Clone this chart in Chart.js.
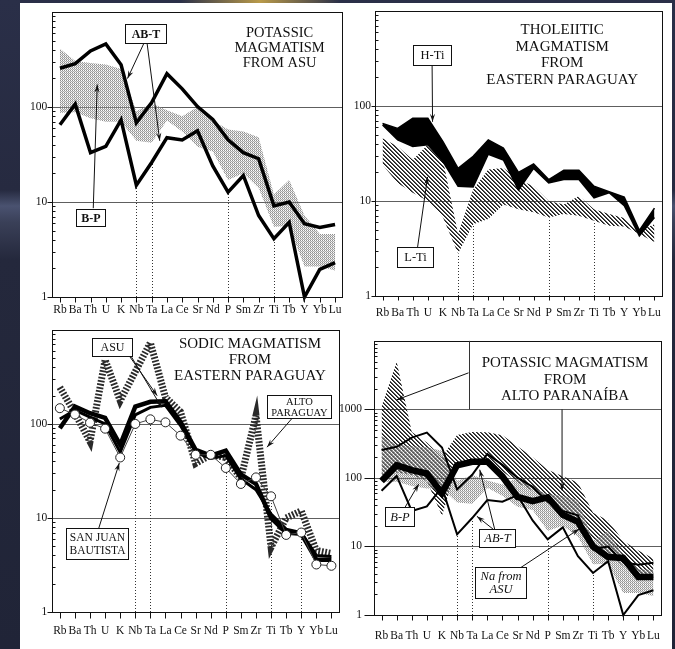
<!DOCTYPE html>
<html>
<head>
<meta charset="utf-8">
<script src="https://cdn.jsdelivr.net/npm/chart.js@4.4.1/dist/chart.umd.min.js"></script>
<style>
  html, body { margin: 0; padding: 0; }
  body {
    width: 675px; height: 649px; position: relative; overflow: hidden;
    background: linear-gradient(to bottom, #2a2f48 0px, #262a40 190px, #4a5270 206px, #3a4058 222px, #24283c 260px, #202437 649px);
  }
  #glow { position: absolute; left: 180px; top: 0; width: 160px; height: 3px;
          background: linear-gradient(to right, rgba(0,0,0,0), #b99a4a, rgba(0,0,0,0)); }
  #paper { position: absolute; left: 20px; top: 3px; width: 652px; height: 646px; background: #fff; }
  canvas { position: absolute; }
</style>
</head>
<body>
<div id="glow"></div>
<div id="paper"></div>
<canvas id="potassicAsu" width="338" height="322" style="left:12px;top:0px"></canvas>
<canvas id="tholeiitic" width="335" height="322" style="left:340px;top:0px"></canvas>
<canvas id="sodic" width="338" height="331" style="left:12px;top:318px"></canvas>
<canvas id="altoParanaiba" width="337" height="327" style="left:338px;top:322px"></canvas>
<script>
// Spider diagrams: element order along the x axis
const elements = ['Rb','Ba','Th','U','K','Nb','Ta','La','Ce','Sr','Nd','P','Sm','Zr','Ti','Tb','Y','Yb','Lu'];
const guideElements = ['Nb','Ta','P','Ti','Y'];
const decadeLabels = [1, 10, 100];
const decadeLabelsWide = [1, 10, 100, 1000];

// Potassic magmatism, ASU: AB-T envelope lines and B-P field
const abtUpper = [255, 285, 388, 460, 278, 68, 111, 224, 155, 101, 74, 45, 33, 28.5, 9.1, 10, 5.9, 5.4, 5.8];
const abtLower = [65, 107, 33, 38.5, 73, 15, 26, 47.5, 45, 56, 24, 12.7, 19, 7.2, 4.1, 6.1, 1.0, 1.95, 2.3];
const bpUpper  = [410, 305, 290, 280, 250, 90, 110, 92, 80, 100, 72, 58, 55, 48, 12, 17, 7.2, 4.6, 4.6];
const bpLower  = [87, 88, 76, 70, 70, 44, 42, 72, 55, 38, 34, 17, 20, 14, 5.5, 5.6, 2.1, 2.1, 1.9];

// Tholeiitic magmatism, Eastern Paraguay: H-Ti and L-Ti fields
const htiUpper = [65.5, 58, 74, 74, 42, 22, 29.5, 44, 36, 20, 24.5, 16.8, 21, 21, 14.3, 12.5, 11, 4.9, 8.4];
const htiLower = [63, 44, 37.5, 39, 26, 14.3, 14, 31, 27, 13, 22, 15.5, 16.8, 16.8, 10.8, 12.2, 8.9, 4.3, 6.7];
const ltiUpper = [45.7, 37.4, 27.2, 39, 27, 4.5, 13.2, 21.4, 22.2, 16.8, 14.3, 10, 9.2, 11.3, 8.2, 7.3, 6.6, 4.9, 5.7];
const ltiLower = [24, 15.5, 12.2, 10, 6.7, 2.8, 5.7, 6.45, 9.2, 8.2, 7.6, 6.7, 7.3, 7.0, 6.2, 5.5, 5.4, 4.5, 3.7];

// Sodic magmatism, Eastern Paraguay
const naAsu        = [90, 153, 130, 116, 60, 153, 172, 174, 105, 53, 46, 52, 29, 23, 10, 7, 6.8, 3.6, 3.6];
const naAsuSecond  = [113, 140, 118, 100, 50, 125, 150, 158, 96, 50, 43, 46, 26, 20, 11, 7.6, 7.0, 4.0, 3.9];
const sanJuan      = [147, 126, 103, 89, 44, 100, 112, 104, 75, 47, 47, 34, 23, 27, 17, 6.6, 7.0, 3.2, 3.1];
const altoParaguay = [245, 130, 65, 480, 177, 360, 730, 192, 134, 38, 47, 44, 26.5, 123, 4.9, 10, 11.9, 4.5, 4.2];

// Potassic magmatism, Alto Paranaíba field
const apUpper = [1100, 5000, 470, 330, 200, 425, 470, 465, 420, 290, 200, 132, 106, 86, 31, 24, 12, 8.7, 6.7];
const apLower = [100, 120, 110, 90, 28, 150, 160, 165, 125, 85, 65, 48, 37, 25, 13, 8, 5.2, 3.8, 3.4];

const serif = "'Liberation Serif', 'Times New Roman', 'DejaVu Serif', serif";

// fine grey dot screen
function makeStipple() {
  const c = document.createElement('canvas'); c.width = 2; c.height = 2;
  const g = c.getContext('2d');
  g.fillStyle = 'rgba(165,165,165,0.4)'; g.fillRect(0, 0, 2, 2);
  g.clearRect(1, 0, 1, 1);
  g.fillStyle = 'rgba(110,110,110,0.7)'; g.fillRect(0, 0, 1, 1);
  g.fillStyle = 'rgba(130,130,130,0.55)'; g.fillRect(1, 1, 1, 1);
  return g.createPattern(c, 'repeat');
}
// diagonal line hatching
function makeHatch() {
  const c = document.createElement('canvas'); c.width = 4; c.height = 4;
  const g = c.getContext('2d');
  const img = g.createImageData(4, 4);
  for (let yy = 0; yy < 4; yy++) for (let xx = 0; xx < 4; xx++) {
    const d = ((xx - yy) % 4 + 4) % 4;
    const a = d === 0 ? 1 : (d === 1 ? 0.75 : 0);
    const k = (yy * 4 + xx) * 4;
    img.data[k] = 28; img.data[k + 1] = 28; img.data[k + 2] = 28; img.data[k + 3] = Math.round(a * 255);
  }
  g.putImageData(img, 0, 0);
  return g.createPattern(c, 'repeat');
}
const stipple = makeStipple();
const hatch = makeHatch();

const line = (data, width, extra = {}) => Object.assign({
  data, borderColor: '#000', borderWidth: width, pointRadius: 0, fill: false,
  tension: 0, borderJoinStyle: 'miter', clip: 6
}, extra);
const edge = (data, extra = {}) => Object.assign({
  data, borderColor: 'transparent', borderWidth: 1, pointRadius: 0, fill: false, tension: 0, clip: 6
}, extra);

function arrow(ctx, p, q) {
  const head = 8, half = 2.6;
  ctx.beginPath(); ctx.moveTo(p.x, p.y); ctx.lineTo(q.x, q.y);
  ctx.lineWidth = 1; ctx.strokeStyle = '#111'; ctx.setLineDash([]); ctx.stroke();
  const ang = Math.atan2(q.y - p.y, q.x - p.x), c = Math.cos(ang), s = Math.sin(ang);
  ctx.beginPath(); ctx.moveTo(q.x, q.y);
  ctx.lineTo(q.x - head * c + half * s, q.y - head * s - half * c);
  ctx.lineTo(q.x - head * 0.65 * c, q.y - head * 0.65 * s);
  ctx.lineTo(q.x - head * c - half * s, q.y - head * s + half * c);
  ctx.closePath(); ctx.fillStyle = '#111'; ctx.fill();
}

// Per-panel frame, guides, titles and labelled boxes
const figures = {};

const figurePlugin = {
  id: 'figure',
  beforeDatasetsDraw(chart) {
    const f = figures[chart.canvas.id];
    const { ctx, chartArea: a } = chart, x = chart.scales.x, y = chart.scales.y;
    ctx.save();
    ctx.strokeStyle = '#5e5e5e'; ctx.lineWidth = 1;
    f.gridDecades.forEach(d => {
      const py = Math.round(y.getPixelForValue(d)) + 0.5;
      ctx.beginPath(); ctx.moveTo(a.left, py); ctx.lineTo(a.right, py); ctx.stroke();
    });
    ctx.setLineDash([1, 2]); ctx.strokeStyle = '#333';
    f.guides.forEach(el => {
      const i = elements.indexOf(el);
      const px = Math.round(x.getPixelForValue(i)) + 0.5;
      ctx.beginPath(); ctx.moveTo(px, a.bottom); ctx.lineTo(px, y.getPixelForValue(f.guideSeries[i])); ctx.stroke();
    });
    ctx.restore();
  },
  afterDatasetsDraw(chart) {
    const f = figures[chart.canvas.id];
    const { ctx, chartArea: a } = chart, x = chart.scales.x, y = chart.scales.y;
    const pt = p => ({ x: x.getPixelForValue(p[0]), y: y.getPixelForValue(p[1]) });
    ctx.save();
    ctx.setLineDash([]);
    ctx.strokeStyle = '#111'; ctx.lineWidth = 1;
    ctx.strokeRect(Math.round(a.left) + 0.5, Math.round(a.top) + 0.5, Math.round(a.right - a.left), Math.round(a.bottom - a.top));
    const seg = (x1, y1, x2, y2) => { ctx.beginPath(); ctx.moveTo(x1, y1); ctx.lineTo(x2, y2); ctx.stroke(); };
    const L = Math.round(a.left) + 0.5, B = Math.round(a.bottom) + 0.5;
    for (let d = 1; d < f.yMax; d *= 10) {
      for (let k = 2; k <= 9; k++) {
        const py = Math.round(y.getPixelForValue(k * d)) + 0.5;
        seg(L, py, L + 3, py);
      }
    }
    f.yLabels.forEach(v => { const py = Math.round(y.getPixelForValue(v)) + 0.5; seg(L - f.majorLen, py, L, py); });
    elements.forEach((_, i) => { const px = Math.round(x.getPixelForValue(i)) + 0.5; seg(px, B, px, B + f.xTickLen); });

    (f.rules || []).forEach(r => { const p = pt(r.from), q = pt(r.to); ctx.strokeStyle = '#333'; seg(Math.round(p.x) + 0.5, p.y, Math.round(q.x) + 0.5, q.y); });
    (f.arrows || []).forEach(r => arrow(ctx, pt(r.from), pt(r.to)));

    // title block
    const t = f.title;
    ctx.font = `${t.size}px ${serif}`; ctx.fillStyle = '#111';
    ctx.textAlign = 'center'; ctx.textBaseline = 'middle';
    const tp = pt(t.at);
    t.lines.forEach((s, k) => ctx.fillText(s, tp.x, tp.y + k * t.lineHeight));

    // labelled boxes with their pointers
    f.boxes.forEach(b => {
      (b.arrows || []).forEach(r => arrow(ctx, pt(r.from), pt(r.to)));
      ctx.font = `${b.style || ''} ${b.size}px ${serif}`;
      const w = Math.round(Math.max(...b.lines.map(s => ctx.measureText(s).width)) + 2 * b.padX);
      const h = Math.round(b.lines.length * b.lineHeight + 2 * b.padY);
      const c = pt(b.at);
      const l = Math.round(c.x - w / 2) + 0.5, tt = Math.round(c.y - h / 2) + 0.5;
      ctx.fillStyle = '#fff'; ctx.fillRect(l, tt, w, h);
      ctx.strokeStyle = '#111'; ctx.lineWidth = 1; ctx.strokeRect(l, tt, w, h);
      ctx.fillStyle = '#111'; ctx.textAlign = 'center'; ctx.textBaseline = 'middle';
      b.lines.forEach((s, k) => ctx.fillText(s, l + w / 2, tt + b.padY + b.lineHeight * (k + 0.5) + 0.5));
    });
    ctx.restore();
  }
};

function panel(id, p) {
  figures[id] = p.figure;
  const labels = p.figure.yLabels;
  return new Chart(document.getElementById(id), {
    type: 'line',
    data: { labels: elements, datasets: p.datasets },
    options: {
      responsive: false, animation: false, devicePixelRatio: 1, events: [],
      layout: { padding: p.padding },
      plugins: { legend: { display: false }, tooltip: { enabled: false } },
      scales: {
        x: {
          type: 'category', offset: true,
          grid: { display: false, drawTicks: false }, border: { display: false },
          ticks: { autoSkip: false, maxRotation: 0, minRotation: 0, padding: p.xPad, color: '#111',
                   font: { family: serif, size: 11.5 } },
          afterFit: s => { s.height = p.xHeight; }
        },
        y: {
          type: 'logarithmic', min: 1, max: p.figure.yMax,
          grid: { display: false, drawTicks: false }, border: { display: false },
          ticks: { autoSkip: false, padding: p.yPad, color: '#111', font: { family: serif, size: 11.5 },
                   callback: v => labels.includes(v) ? String(v) : '' },
          afterFit: s => { s.width = p.yWidth; }
        }
      }
    },
    plugins: [figurePlugin]
  });
}

panel('potassicAsu', {
  padding: { top: 10, right: 7.3, left: 0, bottom: 0 }, yWidth: 40.3, xHeight: 25, xPad: 6, yPad: 5,
  datasets: [
    line(abtUpper, 3.5), line(abtLower, 3.5),
    edge(bpUpper, { backgroundColor: stipple, fill: '+1' }), edge(bpLower)
  ],
  figure: {
    yMax: 1000, yLabels: decadeLabels, gridDecades: [10, 100], majorLen: 5, xTickLen: 5,
    guides: guideElements, guideSeries: abtLower,
    title: { lines: ['POTASSIC', 'MAGMATISM', 'FROM ASU'], at: [14.37, 604], lineHeight: 15, size: 14.5 },
    boxes: [
      { lines: ['AB-T'], at: [5.57, 589], style: 'bold', size: 12, lineHeight: 13, padX: 6, padY: 3,
        arrows: [{ from: [5.5, 470], to: [4.42, 199] }, { from: [5.7, 470], to: [6.53, 44] }] },
      { lines: ['B-P'], at: [2.01, 6.8], style: 'bold', size: 12, lineHeight: 13, padX: 5, padY: 2,
        arrows: [{ from: [2.18, 8.6], to: [2.44, 172] }] }
    ]
  }
});

panel('tholeiitic', {
  padding: { top: 10, right: 13, left: 0, bottom: 0 }, yWidth: 35, xHeight: 26, xPad: 10, yPad: 4,
  datasets: [
    line(htiUpper, 1.5, { backgroundColor: '#000', fill: '+1' }), line(htiLower, 1.5),
    edge(ltiUpper, { backgroundColor: hatch, fill: '+1' }), edge(ltiLower)
  ],
  figure: {
    yMax: 1000, yLabels: decadeLabels, gridDecades: [10, 100], majorLen: 4, xTickLen: 4,
    guides: guideElements.filter(e => e !== 'Y'), guideSeries: ltiLower,
    title: { lines: ['THOLEIITIC', 'MAGMATISM', 'FROM', 'EASTERN PARAGUAY'], at: [11.89, 631], lineHeight: 16.7, size: 15 },
    boxes: [
      { lines: ['H-Ti'], at: [3.28, 344], size: 12.5, lineHeight: 13, padX: 7, padY: 3.5,
        arrows: [{ from: [3.28, 270], to: [3.31, 68] }] },
      { lines: ['L-Ti'], at: [2.18, 2.57], size: 12.5, lineHeight: 13, padX: 7, padY: 3.5,
        arrows: [{ from: [2.32, 3.28], to: [2.98, 17.9] }] }
    ]
  }
});

panel('sodic', {
  padding: { top: 7, right: 7.3, left: 0, bottom: 0 }, yWidth: 40.3, xHeight: 37, xPad: 12, yPad: 5,
  datasets: [
    line(sanJuan, 1, { borderColor: '#444', pointRadius: 4.5, pointBackgroundColor: '#fff',
                       pointBorderColor: '#222', pointBorderWidth: 1 }),
    line(naAsuSecond, 3),
    line(naAsu, 4.5),
    line(altoParaguay, 7, { borderColor: '#2a2a2a', borderDash: [1.8, 1.6], borderCapStyle: 'butt' })
  ],
  figure: {
    yMax: 1000, yLabels: decadeLabels, gridDecades: [10, 100], majorLen: 5, xTickLen: 6,
    guides: guideElements, guideSeries: sanJuan,
    title: { lines: ['SODIC MAGMATISM', 'FROM', 'EASTERN PARAGUAY'], at: [12.6, 715], lineHeight: 16, size: 15 },
    boxes: [
      { lines: ['ASU'], at: [3.45, 657], size: 12, lineHeight: 13, padX: 8, padY: 2.5,
        arrows: [{ from: [4.3, 620], to: [6.45, 200] }, { from: [4.45, 620], to: [6.75, 150] }] },
      { lines: ['SAN JUAN', 'BAUTISTA'], at: [2.43, 5.3], size: 11.5, lineHeight: 13, padX: 3, padY: 2.5,
        arrows: [{ from: [2.56, 7.6], to: [3.94, 38.4] }] },
      { lines: ['ALTO', 'PARAGUAY'], at: [15.83, 152], size: 10.5, lineHeight: 11, padX: 4, padY: 0.5,
        arrows: [{ from: [15.44, 117], to: [13.73, 56.6] }] }
    ]
  }
});

panel('altoParanaiba', {
  padding: { top: 8, right: 14, left: 0, bottom: 0 }, yWidth: 36, xHeight: 34, xPad: 14, yPad: 12,
  datasets: [
    line(naAsu, 6.5),
    line(abtUpper, 2), line(abtLower, 2),
    edge(bpUpper, { backgroundColor: stipple, fill: '+1' }), edge(bpLower),
    edge(apUpper, { backgroundColor: hatch, fill: '+1' }), edge(apLower)
  ],
  figure: {
    yMax: 10000, yLabels: decadeLabelsWide, gridDecades: [10, 100, 1000], majorLen: 10, xTickLen: 5,
    guides: guideElements, guideSeries: abtLower,
    title: { lines: ['POTASSIC MAGMATISM', 'FROM', 'ALTO PARANAÍBA'], at: [12.15, 4677], lineHeight: 16.5, size: 15 },
    rules: [{ from: [5.76, 10000], to: [5.76, 1000] }],
    arrows: [{ from: [5.76, 3420], to: [1.0, 1378] }, { from: [11.95, 1000], to: [11.95, 66] }],
    boxes: [
      { lines: ['B-P'], at: [1.16, 27.4], style: 'italic', size: 12.5, lineHeight: 13, padX: 5, padY: 3,
        arrows: [{ from: [1.53, 36.5], to: [2.46, 81.6] }] },
      { lines: ['AB-T'], at: [7.67, 13.1], style: 'italic', size: 12.5, lineHeight: 13, padX: 5, padY: 2.5,
        arrows: [{ from: [7.44, 17.5], to: [6.31, 27.6] }, { from: [7.5, 17.5], to: [6.5, 132] }] },
      { lines: ['Na from', 'ASU'], at: [7.9, 3.0], style: 'italic', size: 12.5, lineHeight: 13, padX: 5, padY: 2.5,
        arrows: [{ from: [9.16, 4.83], to: [13.08, 18.0] }] }
    ]
  }
});
</script>
</body>
</html>
